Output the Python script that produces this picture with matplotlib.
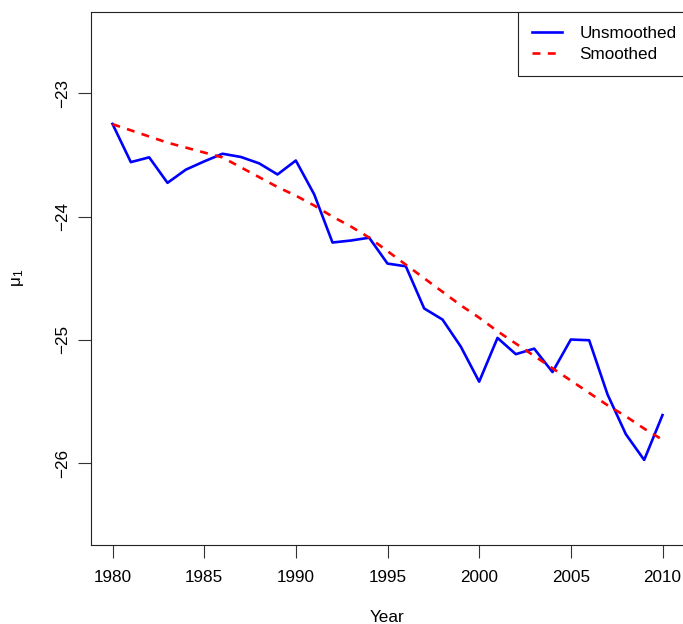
import matplotlib
matplotlib.use("Agg")
import matplotlib.pyplot as plt

plt.rcParams['font.family'] = ['Liberation Sans', 'DejaVu Sans']
plt.rcParams['mathtext.default'] = 'regular'

years = list(range(1980, 2011))
unsmoothed = [-23.248, -23.558, -23.519, -23.726, -23.619, -23.552, -23.490, -23.516,
              -23.568, -23.658, -23.545, -23.819, -24.210, -24.194, -24.171, -24.381,
              -24.403, -24.745, -24.835, -25.055, -25.339, -24.984, -25.116, -25.071,
              -25.261, -24.997, -25.003, -25.442, -25.765, -25.974, -25.610]
smoothed = [-23.25, -23.30, -23.35, -23.40, -23.44, -23.48, -23.52, -23.60, -23.68,
            -23.76, -23.83, -23.91, -24.00, -24.08, -24.17, -24.28, -24.39, -24.50,
            -24.61, -24.72, -24.82, -24.93, -25.03, -25.13, -25.23, -25.33, -25.43,
            -25.53, -25.62, -25.72, -25.81]
xticks = [1980, 1985, 1990, 1995, 2000, 2005, 2010]
yticks = [-23, -24, -25, -26]
labels = ["Unsmoothed", "Smoothed"]

W, H = 683, 624
fig = plt.figure(figsize=(W / 100, H / 100), dpi=100)
ax = fig.add_axes([90.5 / W, (H - 544.5) / H, (684.5 - 90.5) / W, (544.5 - 12) / H])

fs = 12.3
ax.plot(years, unsmoothed, color='#0000ff', lw=1.9, label=labels[0])
ax.plot(years, smoothed, color='#ff0000', lw=1.9, ls=(0, (3.0, 2.8)), label=labels[1])

ax.set_xlim(1978.8, 2011.2)
ax.set_ylim(-26.66, -22.34)
ax.set_xticks(xticks)
ax.set_yticks(yticks)
ax.set_xticklabels([str(x) for x in xticks])
ax.set_yticklabels(['\u2212' + str(abs(y)) for y in yticks], rotation=90, va='center')
ax.tick_params(axis='both', direction='out', length=9.5, width=0.8, labelsize=fs, color='#333333')
ax.tick_params(axis='x', pad=9)
ax.tick_params(axis='y', pad=5)
for s in ax.spines.values():
    s.set_linewidth(0.8)
    s.set_color('#222222')

fig.text(387 / W, 1 - 617 / H, 'Year', ha='center', va='center', fontsize=fs)
fig.text(18 / W, 1 - 278 / H, r'$\mu_1$', ha='center', va='center', fontsize=fs, rotation=90)

leg = ax.legend(loc='upper right', bbox_to_anchor=(1.0101, 1.0), borderaxespad=0,
                fancybox=False, framealpha=1,
                edgecolor='#222222', fontsize=fs, handlelength=1.8, handletextpad=1.0,
                labelspacing=0.34, borderpad=0.82)
leg.get_frame().set_linewidth(0.8)

fig.savefig('out.png', dpi=100)
